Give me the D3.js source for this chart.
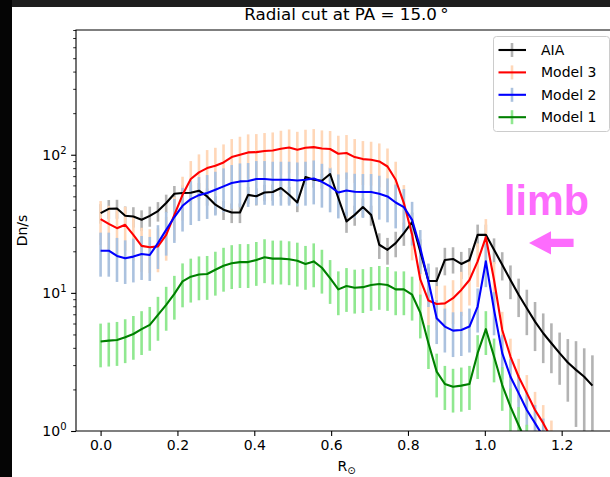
<!DOCTYPE html>
<html>
<head>
<meta charset="utf-8">
<script src="https://cdn.jsdelivr.net/npm/d3@7"></script>
<style>
  html, body { margin: 0; padding: 0; background: #ffffff; }
  svg { display: block; }
  text { font-family: "DejaVu Sans", sans-serif; }
  text.limb { font-family: "Liberation Sans", Arial, sans-serif; font-weight: bold; }
</style>
</head>
<body>
<svg id="chart" width="610" height="477"></svg>
<script>
// Radial distance from the limb, in solar radii
const radius = [0.0000, 0.0213, 0.0427, 0.0640, 0.0853, 0.1067, 0.1280, 0.1493, 0.1707, 0.1920,
  0.2133, 0.2347, 0.2560, 0.2773, 0.2987, 0.3200, 0.3413, 0.3627, 0.3840, 0.4053,
  0.4267, 0.4480, 0.4693, 0.4907, 0.5120, 0.5333, 0.5547, 0.5760, 0.5973, 0.6187,
  0.6400, 0.6613, 0.6827, 0.7040, 0.7253, 0.7467, 0.7680, 0.7893, 0.8107, 0.8320,
  0.8533, 0.8747, 0.8960, 0.9173, 0.9387, 0.9600, 0.9813, 1.0027, 1.0240, 1.0453,
  1.0667, 1.0880, 1.1093, 1.1307, 1.1520, 1.1733, 1.1947, 1.2160, 1.2373, 1.2587, 1.2800];

// Observed AIA intensity (DN/s) and its uncertainty
const aia = [37.8, 40.6, 40.8, 36.2, 35.7, 33.8, 36.1, 39.1, 44.7, 52.2,
  52.8, 53.1, 54.9, 49.9, 43.5, 40.0, 38.2, 38.2, 51.2, 50.0,
  53.3, 53.7, 57.4, 51.3, 45.1, 68.9, 65.9, 64.8, 72.5, 48.6,
  32.9, 36.7, 41.8, 36.7, 22.3, 20.5, 22.9, 27.1, 32.5, 19.9,
  12.2, 12.2, 17.3, 17.6, 16.2, 17.3, 26.3, 26.3, 20.5, 16.0,
  12.4, 9.68, 7.74, 6.19, 5.10, 4.32, 3.66, 3.13, 2.77, 2.47, 2.13];
const aiaErr = [6.1, 6.4, 6.4, 6.0, 6.0, 5.8, 6.0, 6.3, 6.7, 7.2,
  7.3, 7.3, 7.4, 7.1, 6.6, 6.3, 6.2, 6.2, 7.2, 7.1,
  7.3, 7.3, 7.6, 7.2, 6.7, 8.3, 8.1, 8.0, 8.5, 7.0,
  5.7, 6.1, 6.5, 6.1, 4.7, 4.5, 4.8, 5.2, 5.7, 4.5,
  3.1, 3.1, 3.9, 3.8, 3.6, 3.8, 4.9, 4.9, 4.3, 3.7,
  3.4, 3.0, 2.8, 2.4, 2.0, 1.7, 1.5, 1.5, 1.7, 1.5, 1.4];

// Model 3 synthetic intensity and uncertainty
const model3 = [34.2, 31.6, 29.4, 31.1, 26.3, 21.9, 21.4, 21.7, 26.3, 36.7,
  51.3, 66.7, 74.5, 80.1, 83.2, 88.0, 96.2, 100.0, 104.0, 104.5,
  106.4, 107.4, 110.5, 112.9, 108.6, 112.4, 113.6, 111.1, 110.0, 101.7,
  102.9, 96.2, 93.0, 92.0, 89.4, 82.2, 65.9, 44.7, 26.5, 12.5,
  8.8, 8.3, 8.4, 9.15, 10.5, 12.4, 16.9, 25.3, 12.4, 5.39,
  3.46, 2.47, 1.88, 1.42, 1.14, 0.88, 0.68, 0.53, 0.42, 0.33, 0.26];
const model3Err = [12.0, 11.1, 10.3, 10.9, 9.2, 7.7, 7.5, 7.6, 9.2, 12.8,
  18.0, 23.3, 26.1, 28.0, 29.1, 30.8, 33.7, 35.0, 36.4, 36.6,
  37.2, 37.6, 38.7, 39.5, 38.0, 39.3, 39.8, 38.9, 38.5, 35.6,
  36.0, 33.7, 32.6, 32.2, 31.3, 28.8, 23.1, 15.6, 9.3, 4.4,
  3.1, 2.9, 2.9, 3.2, 3.7, 4.3, 5.9, 8.9, 4.3, 1.9,
  1.2, 0.86, 0.66, 0.50, 0.40, 0.31, 0.24, 0.19, 0.15, 0.12, 0.09];

// Model 2 synthetic intensity and uncertainty
const model2 = [20.2, 20.2, 18.5, 17.8, 18.3, 19.1, 18.8, 22.9, 28.6, 35.4,
  42.7, 47.7, 51.0, 52.8, 55.8, 59.0, 62.4, 64.1, 64.5, 66.7,
  66.7, 65.9, 65.9, 65.9, 65.1, 65.9, 67.3, 63.7, 59.0, 53.3,
  55.1, 53.9, 53.7, 53.7, 52.2, 49.9, 45.1, 41.8, 33.8, 21.1,
  12.1, 6.56, 5.70, 5.33, 5.39, 5.70, 7.96, 16.9, 7.53, 3.66,
  2.47, 1.88, 1.42, 1.14, 0.91, 0.72, 0.57, 0.45, 0.36, 0.29, 0.23];
const model2Err = [7.1, 7.1, 6.5, 6.2, 6.4, 6.7, 6.6, 8.0, 10.0, 12.4,
  14.9, 16.7, 17.9, 18.5, 19.5, 20.7, 21.8, 22.4, 22.6, 23.3,
  23.3, 23.1, 23.1, 23.1, 22.8, 23.1, 23.6, 22.3, 20.7, 18.7,
  19.3, 18.9, 18.8, 18.8, 18.3, 17.5, 15.8, 14.6, 11.8, 7.4,
  4.2, 2.3, 2.0, 1.9, 1.9, 2.0, 2.8, 5.9, 2.6, 1.3,
  0.86, 0.66, 0.50, 0.40, 0.32, 0.25, 0.20, 0.16, 0.13, 0.10, 0.08];

// Model 1 synthetic intensity and uncertainty
const model1 = [4.44, 4.51, 4.56, 4.77, 5.04, 5.46, 5.86, 6.93, 8.19, 9.84,
  12.1, 13.1, 13.6, 13.7, 14.7, 15.7, 16.4, 16.7, 16.7, 17.3,
  18.1, 17.7, 17.7, 17.5, 17.1, 16.2, 16.9, 15.2, 12.8, 10.6,
  11.2, 10.9, 11.0, 11.4, 11.6, 11.4, 10.6, 10.6, 9.7, 7.2,
  4.32, 2.69, 2.19, 2.09, 2.13, 2.19, 3.66, 5.46, 3.46, 2.15,
  1.50, 1.10, 0.82, 0.65, 0.52, 0.42, 0.33, 0.27, 0.21, 0.17, 0.13];
const model1Err = [1.55, 1.58, 1.60, 1.67, 1.76, 1.91, 2.05, 2.43, 2.87, 3.44,
  4.24, 4.59, 4.76, 4.80, 5.15, 5.50, 5.74, 5.85, 5.85, 6.06,
  6.34, 6.20, 6.20, 6.13, 5.99, 5.67, 5.92, 5.32, 4.48, 3.71,
  3.92, 3.82, 3.85, 3.99, 4.06, 3.99, 3.71, 3.71, 3.40, 2.52,
  1.51, 0.94, 0.77, 0.73, 0.75, 0.77, 1.28, 1.91, 1.21, 0.75,
  0.53, 0.39, 0.29, 0.23, 0.18, 0.15, 0.12, 0.09, 0.07, 0.06, 0.05];

const seriesNames = ["AIA", "Model 3", "Model 2", "Model 1"];
const xTicks = [0.0, 0.2, 0.4, 0.6, 0.8, 1.0, 1.2];
const yTicks = [1, 10, 100];
const yMinorTicks = [2, 3, 4, 5, 6, 7, 8, 9, 20, 30, 40, 50, 60, 70, 80, 90,
  200, 300, 400, 500, 600, 700, 800];
const xDomain = [-0.064, 1.344];
const yDomain = [1, 800];

const series = [
  { name: seriesNames[0], values: aia,    errors: aiaErr,    line: "#000000", bar: "#b3b3b3" },
  { name: seriesNames[1], values: model3, errors: model3Err, line: "#ff0000", bar: "#ffd7b8" },
  { name: seriesNames[2], values: model2, errors: model2Err, line: "#0000ff", bar: "#abc2df" },
  { name: seriesNames[3], values: model1, errors: model1Err, line: "#008000", bar: "#90e890" }
];

const W = 610, H = 477;
const plot = { left: 76, top: 30, right: 617, bottom: 431 };

const svg = d3.select("#chart");
svg.append("rect").attr("width", W).attr("height", H).attr("fill", "#ffffff");

const x = d3.scaleLinear().domain(xDomain).range([plot.left, plot.right]);
const y = d3.scaleLog().domain(yDomain).range([plot.bottom, plot.top]);

svg.append("clipPath").attr("id", "plot-clip")
  .append("rect")
  .attr("x", plot.left).attr("y", plot.top)
  .attr("width", plot.right - plot.left).attr("height", plot.bottom - plot.top);

const data = svg.append("g").attr("clip-path", "url(#plot-clip)");

// Error bars first, so every profile line sits on top of them
series.forEach(s => {
  data.append("g").selectAll("line")
    .data(s.values.map((v, i) => ({ r: radius[i], v, e: s.errors[i] })))
    .join("line")
    .attr("x1", d => x(d.r)).attr("x2", d => x(d.r))
    .attr("y1", d => y(Math.max(d.v - d.e, 1e-3)))
    .attr("y2", d => y(d.v + d.e))
    .attr("stroke", s.bar)
    .attr("stroke-width", 2.6);
});

const lineGen = d3.line().x((d, i) => x(radius[i])).y(d => y(d));
series.forEach(s => {
  data.append("path")
    .datum(s.values)
    .attr("d", lineGen)
    .attr("fill", "none")
    .attr("stroke", s.line)
    .attr("stroke-width", 2.1)
    .attr("stroke-linejoin", "round");
});

// Axes
const xAxis = svg.append("g")
  .attr("transform", `translate(0,${plot.bottom})`)
  .call(d3.axisBottom(x).tickValues(xTicks).tickFormat(d3.format(".1f"))
    .tickSize(4.9).tickPadding(4.6).tickSizeOuter(0));
xAxis.select(".domain").remove();
xAxis.selectAll("text").attr("font-size", 14).attr("fill", "#000")
  .attr("font-family", "DejaVu Sans");
xAxis.selectAll(".tick line").attr("stroke", "#000").attr("stroke-width", 1.1);

const yAxis = svg.append("g")
  .attr("transform", `translate(${plot.left},0)`)
  .call(d3.axisLeft(y).tickValues(yTicks).tickFormat("").tickSize(4.9).tickSizeOuter(0));
yAxis.select(".domain").remove();
yAxis.selectAll(".tick line").attr("stroke", "#000").attr("stroke-width", 1.1);

const yMinor = svg.append("g")
  .attr("transform", `translate(${plot.left},0)`)
  .call(d3.axisLeft(y).tickValues(yMinorTicks).tickFormat("").tickSize(2.8).tickSizeOuter(0));
yMinor.select(".domain").remove();
yMinor.selectAll(".tick line").attr("stroke", "#000").attr("stroke-width", 0.85);

// Power-of-ten tick labels
yTicks.forEach(t => {
  const lbl = svg.append("text")
    .attr("x", plot.left - 9.5)
    .attr("y", y(t) + 5)
    .attr("text-anchor", "end")
    .attr("font-size", 14)
    .attr("fill", "#000");
  lbl.append("tspan").text("10");
  lbl.append("tspan").attr("font-size", 10).attr("dy", -6).text(String(Math.round(Math.log10(t))));
});

// Spines
svg.append("path")
  .attr("d", `M${plot.left},${plot.bottom}V${plot.top}H${plot.right}V${plot.bottom}Z`)
  .attr("fill", "none").attr("stroke", "#000").attr("stroke-width", 1.1);

// Title and axis labels
svg.append("text")
  .attr("x", (plot.left + plot.right) / 2).attr("y", 20)
  .attr("text-anchor", "middle").attr("font-size", 16.7).attr("fill", "#000")
  .text("Radial cut at PA = 15.0\u2009\u00B0");

svg.append("text")
  .attr("transform", `translate(27,${(plot.top + plot.bottom) / 2}) rotate(-90)`)
  .attr("text-anchor", "middle").attr("font-size", 14).attr("fill", "#000")
  .text("Dn/s");

const xl = svg.append("text")
  .attr("x", (plot.left + plot.right) / 2).attr("y", 471)
  .attr("text-anchor", "middle").attr("font-size", 14).attr("fill", "#000");
xl.append("tspan").text("R");
xl.append("tspan").attr("font-size", 10).attr("dy", 3).text("\u2299");

// Limb annotation
const limbColor = "#fd6cfd";
svg.append("text")
  .attr("class", "limb")
  .attr("x", x(1.050)).attr("y", y(36.7))
  .attr("font-size", 43)
  .attr("textLength", 85).attr("lengthAdjust", "spacingAndGlyphs")
  .attr("fill", limbColor)
  .text("limb");

const tipX = x(1.115), tailX = x(1.231), arrowY = y(23.0);
const headLen = 22, headHalf = 11.7, shaftHalf = 4.2;
svg.append("path")
  .attr("d", `M${tipX},${arrowY}L${tipX + headLen},${arrowY - headHalf}V${arrowY - shaftHalf}` +
    `H${tailX}V${arrowY + shaftHalf}H${tipX + headLen}V${arrowY + headHalf}Z`)
  .attr("fill", limbColor);

// Legend
const leg = svg.append("g");
const legBox = { x: 493.5, y: 36.5, w: 116, h: 95 };
leg.append("rect")
  .attr("x", legBox.x).attr("y", legBox.y).attr("width", legBox.w).attr("height", legBox.h)
  .attr("rx", 3).attr("fill", "#ffffff").attr("fill-opacity", 0.8)
  .attr("stroke", "#cccccc").attr("stroke-width", 1);
series.forEach((s, i) => {
  const cy = legBox.y + 13.5 + i * 22.4;
  const g = leg.append("g");
  g.append("line").attr("x1", 512).attr("x2", 512).attr("y1", cy - 7).attr("y2", cy + 7)
    .attr("stroke", s.bar).attr("stroke-width", 2.6);
  g.append("line").attr("x1", 498.5).attr("x2", 526).attr("y1", cy).attr("y2", cy)
    .attr("stroke", s.line).attr("stroke-width", 2.1);
  g.append("text").attr("x", 541).attr("y", cy + 5)
    .attr("font-size", 14).attr("fill", "#000").text(s.name);
});

// Dark window frame around the figure
svg.append("rect").attr("x", 0).attr("y", 0).attr("width", W).attr("height", 7).attr("fill", "#1e1e1e");
svg.append("rect").attr("x", 0).attr("y", 0).attr("width", 12).attr("height", H).attr("fill", "#050505");
</script>
</body>
</html>
